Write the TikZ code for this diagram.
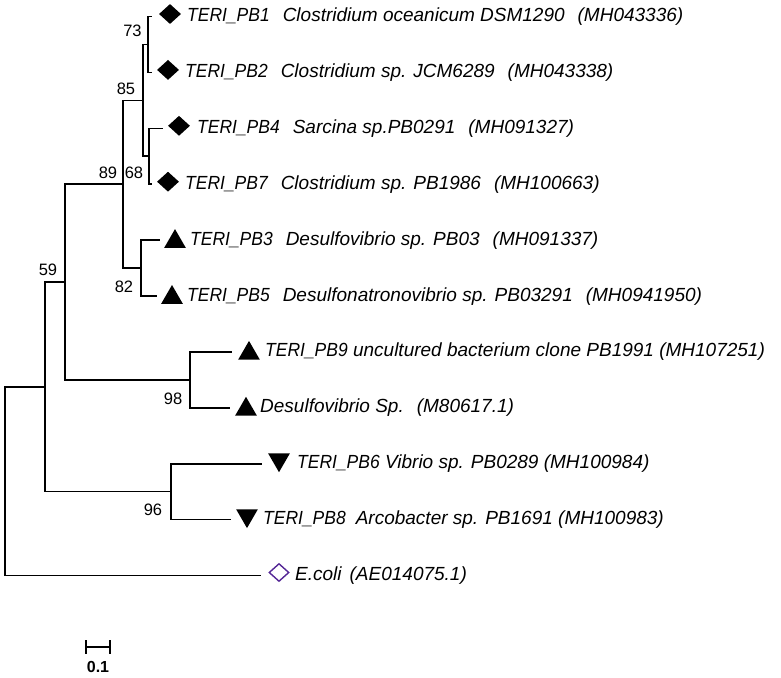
\documentclass[tikz,border=0pt]{standalone}
\usepackage{fontspec}
\setmainfont{Liberation Sans}
\newfontfamily\tfont{Liberation Sans}
\newfontfamily\pfont[FakeStretch=0.92]{Liberation Sans}
\usetikzlibrary{shapes.geometric}
\definecolor{ecol}{RGB}{85,40,150}
\newcommand\gp{\hspace{13pt}}
\newcommand\tp[1]{{\pfont\itshape TERI\_PB#1}}
\begin{document}
\begin{tikzpicture}[x=1pt,y=-1pt,
  branch/.style={draw=black, line width=1.6pt},
  lbl/.style={anchor=base west, inner sep=0, font=\tfont\itshape\fontsize{19}{21}\selectfont},
  bs/.style={anchor=base, inner sep=0, font=\fontsize{16.5}{18}\selectfont},
  dmd/.style={diamond, fill=black, minimum width=22pt, minimum height=20pt, inner sep=0},
  tup/.style={regular polygon, regular polygon sides=3, fill=black, minimum size=25pt, inner sep=0},
  tdn/.style={tup, shape border rotate=180},
  odmd/.style={diamond, draw=ecol, line width=1.4pt, minimum width=20pt, minimum height=18pt, inner sep=0}]
\useasboundingbox (0,0) rectangle (781,677);
% internal nodes
\coordinate (n73) at (148,44.45);
\coordinate (n68) at (149,156.25);
\coordinate (n85) at (143,100.35);
\coordinate (n82) at (141,268.05);
\coordinate (n89) at (123,184.2);
\coordinate (n98) at (190,379.85);
\coordinate (n59) at (65,282.0);
\coordinate (n96) at (171,491.65);
\coordinate (nA) at (45,386.8);
\coordinate (root) at (5,481.15);
% leaf ends
\coordinate (t1) at (152,16.5);
\coordinate (t2) at (152,72.4);
\coordinate (t4) at (163,128.3);
\coordinate (t7) at (152,184.2);
\coordinate (t3) at (160,240.1);
\coordinate (t5) at (157,296);
\coordinate (t9) at (232,351.9);
\coordinate (tD) at (230,407.8);
\coordinate (t6) at (262,463.7);
\coordinate (t8) at (231,519.6);
\coordinate (te) at (261,575.5);
% branches
\draw[branch] (n73) |- (t1);
\draw[branch] (n73) |- (t2);
\draw[branch] (n68) |- (t4);
\draw[branch] (n68) |- (t7);
\draw[branch] (n85) |- (n73);
\draw[branch] (n85) |- (n68);
\draw[branch] (n82) |- (t3);
\draw[branch] (n82) |- (t5);
\draw[branch] (n89) |- (n85);
\draw[branch] (n89) |- (n82);
\draw[branch] (n98) |- (t9);
\draw[branch] (n98) |- (tD);
\draw[branch] (n59) |- (n89);
\draw[branch] (n59) |- (n98);
\draw[branch] (n96) |- (t6);
\draw[branch] (n96) |- (t8);
\draw[branch] (nA) |- (n59);
\draw[branch] (nA) |- (n96);
\draw[branch] (root) |- (nA);
\draw[branch] (root) |- (te);
% markers
\node[dmd] (m1) at (170,14) {};
\node[dmd] (m2) at (168,69.9) {};
\node[dmd] (m4) at (179,125.8) {};
\node[dmd] (m7) at (168,181.7) {};
\node[tup] (m3) at (175,241.6) {};
\node[tup] (m5) at (172,297.5) {};
\node[tup] (m9) at (249,353.4) {};
\node[tup] (mD) at (246,409.3) {};
\node[tdn] (m6) at (279,459.7) {};
\node[tdn] (m8) at (247,515.6) {};
\node[odmd] (me) at (279,572.5) {};
% labels
\node[lbl] (l1) at (187,21.5) {\tp{1}\gp Clostridium oceanicum DSM1290\gp (MH043336)};
\node[lbl] (l2) at (185,77.4) {\tp{2}\gp Clostridium sp. JCM6289\gp (MH043338)};
\node[lbl] (l4) at (197,133.3) {\tp{4}\gp Sarcina sp.PB0291\gp (MH091327)};
\node[lbl] (l7) at (185,189.2) {\tp{7}\gp Clostridium sp. PB1986\gp (MH100663)};
\node[lbl] (l3) at (190,245.1) {\tp{3}\gp Desulfovibrio sp. PB03\gp (MH091337)};
\node[lbl] (l5) at (187,301) {\tp{5}\gp Desulfonatronovibrio sp. PB03291\gp (MH0941950)};
\node[lbl] (l9) at (265,356.9) {\tp{9} uncultured bacterium clone PB1991 (MH107251)};
\node[lbl] (lD) at (260,412.8) {Desulfovibrio Sp.\gp (M80617.1)};
\node[lbl] (l6) at (297,468.7) {\tp{6} Vibrio sp. PB0289 (MH100984)};
\node[lbl] (l8) at (263,524.6) {\tp{8}\hspace{10pt}Arcobacter sp. PB1691 (MH100983)};
\node[lbl] (le) at (295,580.5) {E.coli\hspace{8pt}(AE014075.1)};
% bootstrap values
\node[bs] (b73) at (132.5,37) {73};
\node[bs] (b85) at (126,94) {85};
\node[bs] (b89) at (108,178) {89};
\node[bs] (b68) at (134,178) {68};
\node[bs] (b82) at (124,292) {82};
\node[bs] (b59) at (48,275) {59};
\node[bs] (b98) at (173,404) {98};
\node[bs] (b96) at (153,515) {96};
% scale bar
\coordinate (s1) at (86,646.7);
\coordinate (s2) at (110,646.7);
\draw[line width=1.6pt] (s1) -- (s2);
\draw[line width=1.6pt] ([yshift=-7pt]s1) -- ([yshift=7pt]s1);
\draw[line width=1.6pt] ([yshift=-7pt]s2) -- ([yshift=7pt]s2);
\node[bs, font=\bfseries\fontsize{16}{18}\selectfont] (sl) at (98,672) {0.1};
\end{tikzpicture}
\end{document}
